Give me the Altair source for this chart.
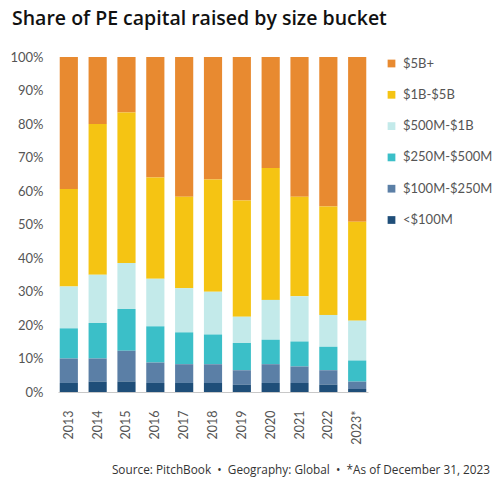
import altair as alt
import pandas as pd

# Fundraising years and size buckets (shares in percent of capital raised)
years = ["2013", "2014", "2015", "2016", "2017", "2018", "2019", "2020", "2021", "2022", "2023*"]
buckets = ["$5B+", "$1B-$5B", "$500M-$1B", "$250M-$500M", "$100M-$250M", "<$100M"]
colors = ["#E88A30", "#F5C413", "#C3EAEA", "#3BBFC8", "#5B7FA6", "#1F4E79"]

under_100m = [2.7, 3.1, 3.1, 2.7, 2.7, 2.7, 2.2, 2.7, 2.7, 2.2, 0.9]
m100_250 = [7.3, 6.9, 9.2, 6.1, 5.6, 5.6, 4.3, 5.6, 4.9, 4.3, 2.2]
m250_500 = [9.0, 10.6, 12.5, 10.8, 9.5, 8.9, 8.1, 7.3, 7.5, 7.0, 6.3]
m500_1b = [12.5, 14.4, 13.7, 14.2, 13.2, 12.7, 7.9, 11.9, 13.5, 9.5, 11.9]
b1_5 = [29.1, 45.0, 44.9, 30.2, 27.3, 33.5, 34.7, 39.4, 29.7, 32.4, 29.5]
b5_plus = [39.4, 20.0, 16.6, 36.0, 41.7, 36.6, 42.8, 33.1, 41.7, 44.6, 49.2]

series = [b5_plus, b1_5, m500_1b, m250_500, m100_250, under_100m]

rows = []
for bucket, values in zip(buckets, series):
    for year, v in zip(years, values):
        rows.append({"year": year, "bucket": bucket, "share": v / 100,
                     "stack_order": len(buckets) - buckets.index(bucket)})
df = pd.DataFrame(rows)

sep = "\u00a0\u00a0\u2022\u00a0\u00a0"
footer = "Source: PitchBook" + sep + "Geography: Global" + sep + "*As of December 31, 2023"

label_font = "Lato"
gray = "#555555"

bars = alt.Chart(df).mark_bar().encode(
    x=alt.X("year:N", sort=years, title=None,
            scale=alt.Scale(paddingInner=0.37, paddingOuter=0.06),
            axis=alt.Axis(labelAngle=-90, labelAlign="right", labelBaseline="middle",
                          labelPadding=18, ticks=False, domain=True,
                          domainColor="#c8c8c8", domainWidth=1,
                          labelFont=label_font, labelFontSize=12.5, labelColor=gray)),
    y=alt.Y("share:Q", stack="zero", title=None,
            scale=alt.Scale(domain=[0, 1], nice=False),
            axis=alt.Axis(values=[i / 10 for i in range(11)], format=".0%",
                          ticks=False, domain=False, grid=False, labelPadding=15,
                          labelFont=label_font, labelFontSize=13, labelColor=gray)),
    color=alt.Color("bucket:N", sort=buckets,
                    scale=alt.Scale(domain=buckets, range=colors),
                    legend=alt.Legend(title=None, orient="none", legendX=327, legendY=0,
                                      symbolType="square", symbolSize=60,
                                      symbolStrokeWidth=0, labelFont=label_font,
                                      labelFontSize=13, labelColor=gray,
                                      rowPadding=17.3, padding=0, labelOffset=5)),
    order=alt.Order("stack_order:Q", sort="ascending"),
)

note = alt.Chart(pd.DataFrame({"note": [footer]})).mark_text(
    align="right", baseline="alphabetic", font="Open Sans", fontSize=11.8, color="#333333"
).encode(
    x=alt.value(432), y=alt.value(417), text="note:N"
)

chart = alt.layer(bars, note).properties(
    width=310,
    height=335,
    autosize=alt.AutoSizeParams(type="none"),
    padding={"left": 58, "top": 57, "right": 132, "bottom": 98},
    title=alt.TitleParams(
        "Share of PE capital raised by size bucket",
        anchor="start", frame="group", dx=-46, offset=22,
        font="Open Sans", fontSize=19.5, fontWeight=600, color="#111111",
    ),
).configure_view(stroke=None)

chart.save("out.html", embed_options={"renderer": "svg", "actions": False})
